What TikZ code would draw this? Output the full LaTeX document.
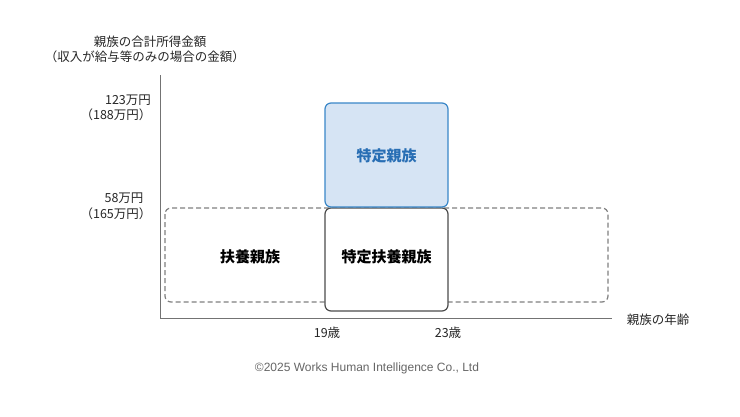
\documentclass[tikz,border=0pt]{standalone}
\usepackage{fontspec}
\setmainfont{Noto Sans CJK JP}
\newfontfamily\arialf{Liberation Sans}
\begin{document}
\begin{tikzpicture}[x=1pt,y=-1pt,
  lbl/.style={font=\fontsize{12.5}{14}\selectfont, text=black!85},
  bl/.style={font=\fontsize{15}{17}\selectfont\bfseries},
  bx/.style={rounded corners=6pt, line width=1.2pt}]
\useasboundingbox (0,0) rectangle (740,416);
\fill[white] (0,0) rectangle (740,416);
\node[lbl] (t1) at (150,42) {親族の合計所得金額};
\node[lbl] (t2) at (145,57) {（収入が給与等のみの場合の金額）};
\node[lbl] (y1) at (128,100) {123万円};
\node[lbl] (y2) at (116,115) {（188万円）};
\node[lbl] (y3) at (124,198) {58万円};
\node[lbl] (y4) at (116,214) {（165万円）};
\coordinate (o) at (160,318);
\coordinate (ytop) at (160,75);
\coordinate (xend) at (612,318);
\draw[black!55, line width=0.8pt] (ytop) -- (o) -- (xend);
\node[lbl] (xl) at (658,320) {親族の年齢};
\node[lbl] (a19) at (327,333) {19歳};
\node[lbl] (a23) at (448,333) {23歳};
\draw[bx, black!50, dash pattern=on 5pt off 3pt] (165,208) rectangle (608,302);
\draw[bx, draw=black!70, fill=white] (325,208) rectangle (448,311);
\draw[bx, draw={rgb,255:red,58;green,135;blue,200}, fill={rgb,255:red,214;green,228;blue,244}] (325,103) rectangle (448,207);
\node[bl, text={rgb,255:red,40;green,110;blue,180}] (b) at (386.5,156) {特定親族};
\node[bl] (f) at (250,257) {扶養親族};
\node[bl] (s) at (386.5,257) {特定扶養親族};
\node[font=\arialf\fontsize{12}{14}\selectfont, text=black!60] (c) at (367,368) {©2025 Works Human Intelligence Co., Ltd};
\end{tikzpicture}
\end{document}
